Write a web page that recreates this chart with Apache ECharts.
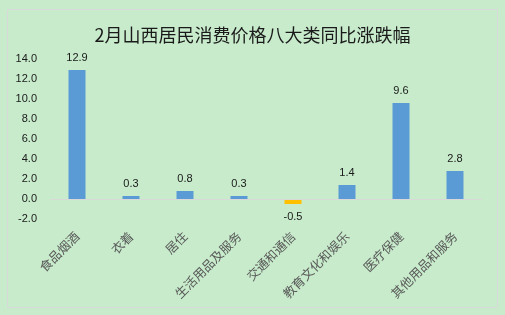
<!DOCTYPE html>
<html><head><meta charset="utf-8">
<script src="https://cdn.jsdelivr.net/npm/echarts@6/dist/echarts.min.js"></script>
<style>html,body{margin:0;padding:0;background:#C7EBCB;}#c{width:505px;height:315px;}</style>
</head><body><div id="c"></div>
<script>
const categories = ['食品烟酒','衣着','居住','生活用品及服务','交通和通信','教育文化和娱乐','医疗保健','其他用品和服务'];
const values = [12.9, 0.3, 0.8, 0.3, -0.5, 1.4, 9.6, 2.8];
const yTicks = [-2, 0, 2, 4, 6, 8, 10, 12, 14];
const titleText = '2月山西居民消费价格八大类同比涨跌幅';

const chart = echarts.init(document.getElementById('c'), null, {renderer:'canvas'});
chart.setOption({
  backgroundColor: '#C7EBCB',
  animation: false,
  title: {text: titleText, left: 'center', top: 21,
    textStyle: {fontSize: 18, fontWeight: 'normal', color: '#1a1a1a', fontFamily: 'Noto Sans CJK SC'}},
  graphic: [{type:'rect', shape:{x:7.5,y:9.5,width:490,height:298}, style:{fill:null, stroke:'#D9D9D9', lineWidth:1}, silent:true}],
  grid: {left: 50, right: 23, top: 59, bottom: 96},
  xAxis: {type:'category', data: categories,
    axisLine:{show:false, onZero:false}, axisTick:{show:false},
    axisLabel:{rotate:45, margin:15, fontSize:12.5, color:'#595959', fontFamily:'Noto Sans CJK SC', interval:0}},
  yAxis: {type:'value', min: yTicks[0], max: yTicks[yTicks.length-1], interval: 2,
    axisLine:{show:false}, axisTick:{show:false}, splitLine:{show:false},
    axisLabel:{margin:13, fontSize:11, color:'#1a1a1a', fontFamily:'Liberation Sans', formatter: v => v.toFixed(1)}},
  series: [{type:'bar', barWidth: 17,
    data: values.map(v => ({value: v, itemStyle:{color: v < 0 ? '#FFC000' : '#5B9BD5'},
      label:{position: v < 0 ? 'bottom' : 'top'}})),
    label:{show:true, distance:7, fontSize:11, color:'#1a1a1a', fontFamily:'Liberation Sans', formatter: p => p.value.toFixed(1)},
    markLine:{silent:true, symbol:'none', label:{show:false}, lineStyle:{color:'#D9D9D9', type:'solid', width:1},
      data:[{yAxis:0}]}
  }]
});
</script></body></html>
